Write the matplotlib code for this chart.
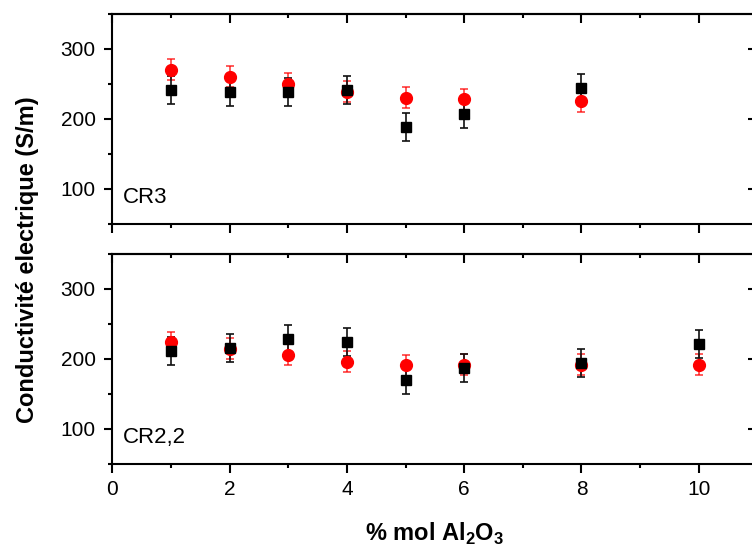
import numpy as np
import matplotlib
matplotlib.use("Agg")
import matplotlib.pyplot as plt
from matplotlib.ticker import MultipleLocator

plt.rcParams['font.family'] = ['Liberation Sans', 'DejaVu Sans']
plt.rcParams['mathtext.fontset'] = 'custom'
plt.rcParams['mathtext.rm'] = 'Liberation Sans'
plt.rcParams['mathtext.bf'] = 'Liberation Sans:bold'

# CR3 (top panel)
x_cr3 = [1, 2, 3, 4, 5, 6, 8]
noir_cr3 = [242, 239, 239, 241, 189, 207, 244]
rouge_cr3 = [270, 260, 250, 239, 230, 228, 225]

# CR2,2 (bottom panel)
x_cr22 = [1, 2, 3, 4, 5, 6, 8, 10]
noir_cr22 = [211, 216, 229, 224, 170, 187, 194, 222]
rouge_cr22 = [224, 215, 206, 196, 191, 192, 192, 192]

err_noir = 20
err_rouge = 15

W, H = 752, 547
fig = plt.figure(figsize=(W / 100, H / 100), dpi=100)
left = 112.4 / W
width = 645 / W
ax_top = fig.add_axes([left, 1 - 224 / H, width, 210 / H])
ax_bot = fig.add_axes([left, 1 - 464 / H, width, 210 / H])


def panel(ax, x, noir, rouge, nom):
    ax.errorbar(x, rouge, yerr=err_rouge, fmt='o', color='red', ms=8.5,
                ecolor=(1, 0, 0, 0.75), elinewidth=1.2, capsize=3.2, capthick=1.2)
    ax.errorbar(x, noir, yerr=err_noir, fmt='s', color='black', ms=7,
                ecolor='#111111', elinewidth=1.2, capsize=3.2, capthick=1.2)
    ax.set_xlim(0, 11)
    ax.set_ylim(50, 350)
    ax.xaxis.set_major_locator(MultipleLocator(2))
    ax.xaxis.set_minor_locator(MultipleLocator(1))
    ax.yaxis.set_major_locator(MultipleLocator(100))
    ax.yaxis.set_minor_locator(MultipleLocator(50))
    for s in ax.spines.values():
        s.set_linewidth(1.5)
    ax.tick_params(axis='x', which='both', bottom=True, top=False, direction='out', width=1.5)
    ax.tick_params(axis='x', which='major', length=6.5)
    ax.tick_params(axis='x', which='minor', length=3)
    ax.tick_params(axis='y', which='both', left=True, right=False, direction='out', width=1.5)
    ax.tick_params(axis='y', which='major', length=6)
    ax.tick_params(axis='y', which='minor', length=3)
    ax.tick_params(labelsize=15, pad=5)
    ax.tick_params(axis='y', pad=6)
    # top and right ticks point inward
    sec_x = ax.secondary_xaxis('top')
    sec_x.xaxis.set_major_locator(MultipleLocator(2))
    sec_x.xaxis.set_minor_locator(MultipleLocator(1))
    sec_x.tick_params(which='both', direction='in', width=1.5, labeltop=False)
    sec_x.tick_params(which='major', length=6.5)
    sec_x.tick_params(which='minor', length=3)
    sec_x.spines['top'].set_linewidth(1.5)
    sec_y = ax.secondary_yaxis('right')
    sec_y.yaxis.set_major_locator(MultipleLocator(100))
    sec_y.yaxis.set_minor_locator(MultipleLocator(50))
    sec_y.tick_params(which='both', direction='in', width=1.5, labelright=False)
    sec_y.tick_params(which='major', length=6.5)
    sec_y.tick_params(which='minor', length=3)
    ax.text(0.016, 0.125, nom, transform=ax.transAxes, fontsize=16, va='center', ha='left')


panel(ax_top, x_cr3, noir_cr3, rouge_cr3, 'CR3')
panel(ax_bot, x_cr22, noir_cr22, rouge_cr22, 'CR2,2')
ax_top.tick_params(axis='x', labelbottom=False)

ax_bot.set_xlabel(r'% mol Al$_\mathbf{2}$O$_\mathbf{3}$', fontsize=17, fontweight='bold', labelpad=16)
fig.text(28 / W, 1 - 260 / H, 'Conductivité electrique (S/m)', rotation=90,
         fontsize=17, fontweight='bold', ha='center', va='center')

fig.savefig('out.png', dpi=100)
